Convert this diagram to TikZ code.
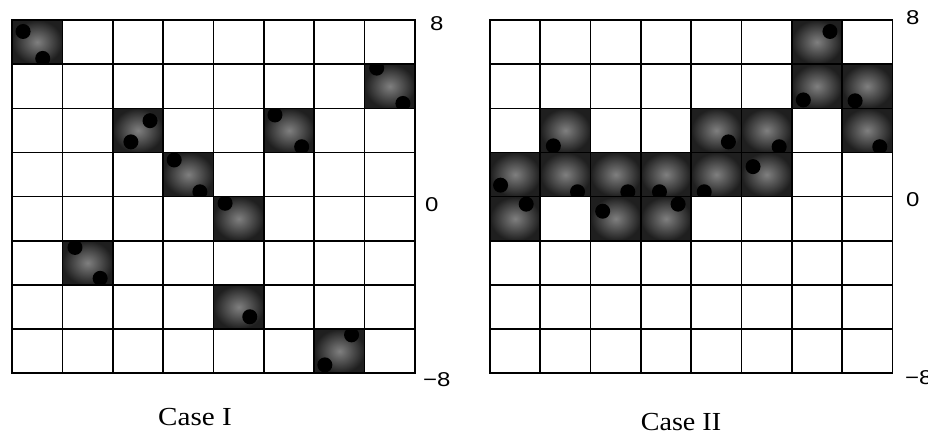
\documentclass[tikz,border=0pt]{standalone}
\usepackage{fontspec}
\newfontfamily\labfont{Liberation Sans}
\newfontfamily\capfont{Liberation Serif}
\newcommand\shcell[3]{%
  \begin{scope}
    \clip (#1,#2) rectangle ++(1,1);
    \shade[shadecell] (#1,#2) rectangle ++(1,1);
    \foreach \u/\v in {#3} {\fill[ball] (\u,\v) circle[radius=7.5pt];}
  \end{scope}}
\newcommand\gridlines{%
  \foreach \i in {0,...,8} {
    \draw[gridline] (\i,0) -- (\i,8);
    \draw[gridline] (0,\i) -- (8,\i);
  }
  \draw[gridline] (0,0) rectangle (8,8);}
\begin{document}
\begin{tikzpicture}[x=1pt,y=-1pt,
  gridline/.style={line width=1.6pt, line cap=rect},
  ball/.style={fill=black},
  shadecell/.style={inner color=black!50, outer color=black!88},
  numlab/.style={inner sep=0pt, anchor=west, font=\labfont\fontsize{20}{24}\selectfont},
  caselab/.style={inner sep=0pt, font=\capfont\fontsize{26}{30}\selectfont}]
\useasboundingbox[fill=white] (0,0) rectangle (928,437);

% Case I
\begin{scope}[shift={(12,20)}, x=50.375pt, y=-44.16pt]
  \shcell{0}{0}{0.22/0.26, 0.61/0.87}
  \shcell{7}{1}{7.24/1.09, 7.76/1.89}
  \shcell{2}{2}{2.74/2.28, 2.36/2.76}
  \shcell{5}{2}{5.22/2.15, 5.75/2.87}
  \shcell{3}{3}{3.22/3.17, 3.73/3.89}
  \shcell{4}{4}{4.23/4.15}
  \shcell{1}{5}{1.25/5.15, 1.75/5.85}
  \shcell{4}{6}{4.72/6.72}
  \shcell{6}{7}{6.74/7.13, 6.21/7.81}
  \gridlines
\end{scope}

% Case II
\begin{scope}[shift={(490,20)}, x=50.29pt, y=-44.16pt]
  \shcell{6}{0}{6.76/0.26}
  \shcell{6}{1}{6.23/1.81}
  \shcell{7}{1}{7.26/1.83}
  \shcell{1}{2}{1.26/2.85}
  \shcell{4}{2}{4.74/2.76}
  \shcell{5}{2}{5.75/2.87}
  \shcell{7}{2}{7.75/2.87}
  \shcell{0}{3}{0.21/3.74}
  \shcell{1}{3}{1.74/3.89}
  \shcell{2}{3}{2.74/3.89}
  \shcell{3}{3}{3.37/3.89}
  \shcell{4}{3}{4.26/3.89}
  \shcell{5}{3}{5.23/3.32}
  \shcell{0}{4}{0.72/4.17}
  \shcell{2}{4}{2.24/4.33}
  \shcell{3}{4}{3.74/4.17}
  \gridlines
\end{scope}

% axis labels
\node[numlab] (a8) at (430,23.3) {\scalebox{1.2}[1]{8}};
\node[numlab] (a0) at (425,204.5) {\scalebox{1.2}[1]{0}};
\node[numlab] (am8) at (423,380) {\scalebox{1.2}[1]{−8}};
\node[numlab] (b8) at (906,17.5) {\scalebox{1.2}[1]{8}};
\node[numlab] (b0) at (906,200) {\scalebox{1.2}[1]{0}};
\node[numlab] (bm8) at (905,378) {\scalebox{1.2}[1]{−8}};

% captions
\node[caselab] (c1) at (195,417) {\scalebox{1.12}[1]{Case I}};
\node[caselab] (c2) at (681,422) {\scalebox{1.08}[1]{Case II}};
\end{tikzpicture}
\end{document}
